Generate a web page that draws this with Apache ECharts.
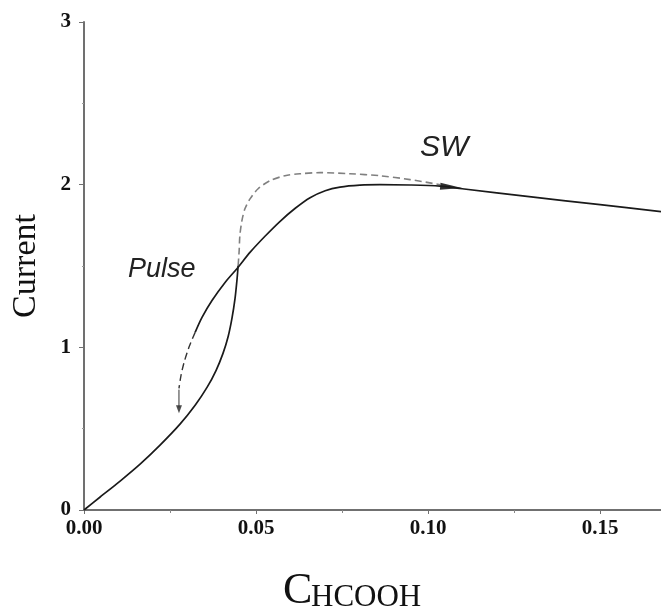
<!DOCTYPE html>
<html>
<head>
<meta charset="utf-8">
<script src="https://cdn.jsdelivr.net/npm/echarts@6/dist/echarts.min.js"></script>
<style>
  html, body { margin: 0; padding: 0; background: #fff; }
  #chart { width: 661px; height: 610px; }
</style>
</head>
<body>
<div id="chart"></div>
<script>
// axis ranges / ticks
const xTicks = [0, 0.05, 0.10, 0.15];
const yTicks = [0, 1, 2, 3];
const xMax = 0.1677;

// SW curve: solid lower branch, then dashed overshoot back onto the common branch
const swSolid = [[0, 0], [0.0047, 0.080], [0.0105, 0.178], [0.0163, 0.282], [0.0221, 0.399],
  [0.0279, 0.528], [0.0323, 0.644], [0.0358, 0.755], [0.0384, 0.859], [0.0404, 0.963],
  [0.0419, 1.067], [0.0430, 1.178], [0.0439, 1.301], [0.0445, 1.423], [0.0448, 1.503]];
const swDashed = [[0.0448, 1.503], [0.0451, 1.595], [0.0453, 1.687], [0.0459, 1.779], [0.0468, 1.853],
  [0.0483, 1.914], [0.0506, 1.975], [0.0541, 2.025], [0.0584, 2.055], [0.0628, 2.067],
  [0.0686, 2.074], [0.0773, 2.067], [0.0860, 2.055], [0.0948, 2.031], [0.1035, 2.0]];
// SW arrow head sits on the branch
const swArrow = [[0.1067, 1.985]];

// Pulse curve: solid from the right down past the crossing, then dashed
const pulseSolid = [[0.1677, 1.834], [0.15, 1.877], [0.13, 1.925], [0.1099, 1.975], [0.1035, 1.991],
  [0.0948, 1.998], [0.0860, 2.0], [0.0802, 1.997], [0.0744, 1.985], [0.0701, 1.963],
  [0.0657, 1.920], [0.0614, 1.855], [0.0570, 1.775], [0.0526, 1.683], [0.0483, 1.585],
  [0.0445, 1.485], [0.0410, 1.399], [0.0372, 1.288], [0.0343, 1.184], [0.0323, 1.092]];
const pulseDashed = [[0.0323, 1.092], [0.0305, 1.0], [0.0291, 0.908], [0.0282, 0.828], [0.0276, 0.748]];
const pulseStem = [[0.0276, 0.74], [0.0276, 0.63]];
const pulseArrow = [[0.0276, 0.62]];

const lineColor = '#1a1a1a';
const dashColor = '#808080';
const axisColor = '#707070';
const serif = '"Liberation Serif", "DejaVu Serif", serif';
const sans = '"Liberation Sans", Arial, sans-serif';

let chart = echarts.init(document.getElementById('chart'));
chart.setOption({
  backgroundColor: '#fff',
  animation: false,
  grid: { left: 84, right: 0, top: 22, bottom: 100 },
  xAxis: [{
    type: 'value',
    min: 0, max: xMax, interval: 0.05,
    axisLine: { show: true, onZero: false, lineStyle: { color: axisColor, width: 2 } },
    axisTick: { show: true, inside: false, length: 4, lineStyle: { color: axisColor, width: 1 } },
    minorTick: { show: true, splitNumber: 2, length: 3, lineStyle: { color: '#888' } },
    axisLabel: {
      showMaxLabel: false, margin: 8,
      fontFamily: serif, fontWeight: 'bold', fontSize: 21, color: '#111',
      formatter: v => xTicks.some(t => Math.abs(t - v) < 1e-9) ? v.toFixed(2) : ''
    },
    splitLine: { show: false }
  }, {
    type: 'value', position: 'top', min: 0, max: xMax,
    axisLine: { show: true, lineStyle: { color: axisColor, width: 1.5 } },
    axisTick: { show: false }, axisLabel: { show: false }, splitLine: { show: false }
  }],
  yAxis: {
    type: 'value',
    min: 0, max: 3, interval: 1,
    name: 'Current', nameLocation: 'middle', nameGap: 41, nameRotate: 90,
    nameTextStyle: { fontFamily: serif, fontSize: 34, color: '#111' },
    axisLine: { show: true, lineStyle: { color: axisColor, width: 2 } },
    axisTick: { show: true, length: 5, lineStyle: { color: axisColor, width: 1 } },
    minorTick: { show: true, splitNumber: 2, length: 2, lineStyle: { color: '#999' } },
    axisLabel: {
      margin: 13, fontFamily: serif, fontWeight: 'bold', fontSize: 21, color: '#111',
      formatter: v => yTicks.includes(v) ? String(v) : ''
    },
    splitLine: { show: false }
  },
  graphic: [
    { type: 'text', left: 128, top: 256,
      style: { text: 'Pulse', font: 'italic 27px ' + sans, fill: '#222' } },
    { type: 'text', left: 420, top: 133,
      style: { text: 'SW', font: 'italic 30px ' + sans, fill: '#222' } },
    { type: 'text', left: 283, top: 569,
      style: { text: 'C', font: '44px ' + serif, fill: '#111' } },
    { type: 'text', left: 311, top: 582,
      style: { text: 'HCOOH', font: '31px ' + serif, fill: '#111' } }
  ],
  series: [
    { name: 'SW', type: 'line', data: swSolid, smooth: 0.3, showSymbol: false,
      lineStyle: { color: lineColor, width: 1.7 } },
    { name: 'SW dashed', type: 'line', data: swDashed, smooth: 0.3, showSymbol: false,
      lineStyle: { color: dashColor, width: 1.6, type: [7, 4] } },
    { name: 'SW arrow', type: 'scatter', data: swArrow, symbol: 'triangle',
      symbolSize: [7, 22], symbolRotate: -95, itemStyle: { color: '#000' } },
    { name: 'Pulse', type: 'line', data: pulseSolid, smooth: 0.3, showSymbol: false,
      lineStyle: { color: lineColor, width: 1.7 } },
    { name: 'Pulse dashed', type: 'line', data: pulseDashed, smooth: 0.3, showSymbol: false,
      lineStyle: { color: '#333', width: 1.4, type: [7, 4] } },
    { name: 'Pulse stem', type: 'line', data: pulseStem, showSymbol: false,
      lineStyle: { color: '#333', width: 1 } },
    { name: 'Pulse arrow', type: 'scatter', data: pulseArrow, symbol: 'triangle',
      symbolSize: [6, 8], symbolRotate: 180, itemStyle: { color: '#222' } }
  ]
});
</script>
</body>
</html>
